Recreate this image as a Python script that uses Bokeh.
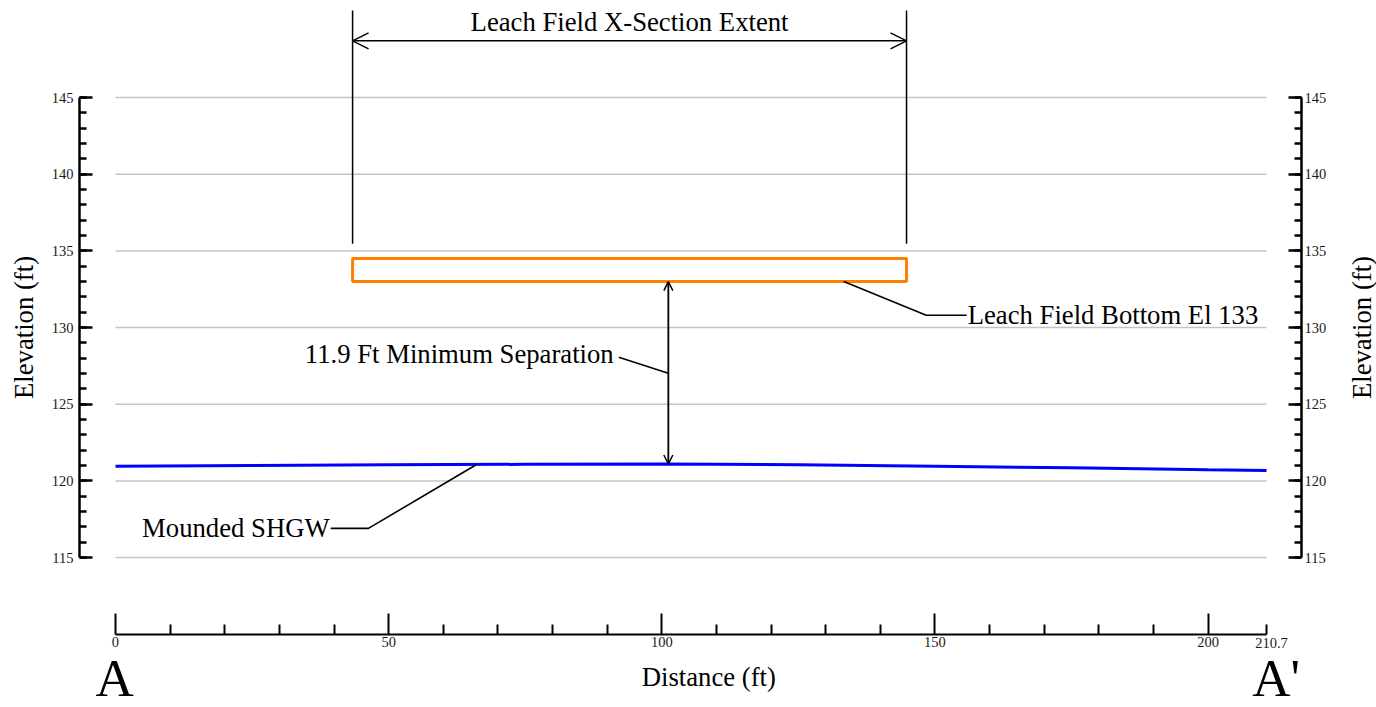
import math
from bokeh.plotting import figure
from bokeh.models import Range1d, LinearAxis, FixedTicker, Arrow, OpenHead, Label
from bokeh.core.properties import value
from bokeh.embed import file_html
from bokeh.resources import INLINE

# ---------------- data ----------------
distance_ft = [0, 25, 50, 75, 100, 125, 150, 175, 200, 210.7]
shgw_elev_ft = [120.95, 121.0, 121.05, 121.08, 121.1, 121.05, 120.95, 120.85, 120.72, 120.68]

leach_x_ft = [43.4, 144.8]
leach_bottom_el = 133.0
leach_top_el = 134.5

sep_x_ft = 101.2
sep_top_el = 133.0
sep_bottom_el = 121.1

grid_elev = [115, 120, 125, 130, 135, 140, 145]
y_major_ticks = [115, 120, 125, 130, 135, 140, 145]
y_minor_ticks = list(range(115, 146))
x_major_ticks = [0, 50, 100, 150, 200]
x_minor_ticks = [10, 20, 30, 40, 60, 70, 80, 90, 110, 120, 130, 140, 160, 170, 180, 190, 210.7]
x_end_ft = 210.7
x_end_label = "210.7"

FONT = "Liberation Serif"
BIG = "26.7px"
TICK = "14.5px"

# scale: 5.4628 px/ft horizontally (0 ft at px 115); 15.333 px/ft vertically (145 at px 97)
p = figure(width=1376, height=707,
           x_range=Range1d(-21.05, 230.83), y_range=Range1d(105.22, 151.33),
           output_backend="svg", toolbar_location=None,
           x_axis_location=None, y_axis_location=None,
           min_border=0, min_border_left=0, min_border_right=0,
           min_border_top=0, min_border_bottom=0)
p.xgrid.visible = False
p.ygrid.visible = False
p.outline_line_color = None
p.background_fill_color = "white"
p.border_fill_color = "white"

LEFT_AXIS_X = -6.59
RIGHT_AXIS_X = 217.1
BOTTOM_AXIS_Y = 109.98

# ---------------- axes ----------------
def style_y(ax, standoff):
    ax.axis_line_width = 2.5
    ax.axis_line_color = "black"
    ax.major_tick_in = 13
    ax.major_tick_out = 0
    ax.minor_tick_in = 7
    ax.minor_tick_out = 0
    ax.major_tick_line_width = 2.5
    ax.minor_tick_line_width = 2.5
    ax.major_label_standoff = standoff
    ax.major_label_text_font = FONT
    ax.major_label_text_font_size = TICK
    ax.major_label_text_color = "#1a1a1a"

yl = LinearAxis(ticker=FixedTicker(ticks=y_major_ticks, minor_ticks=y_minor_ticks),
                bounds=(115, 145), axis_label="Elevation (ft)", fixed_location=LEFT_AXIS_X)
style_y(yl, 6)
yl.axis_label_text_font = FONT
yl.axis_label_text_font_size = BIG
yl.axis_label_text_font_style = "normal"
yl.axis_label_text_color = "black"
yl.axis_label_standoff = 10
p.add_layout(yl, "left")

yr = LinearAxis(ticker=FixedTicker(ticks=y_major_ticks, minor_ticks=y_minor_ticks),
                bounds=(115, 145), fixed_location=RIGHT_AXIS_X)
style_y(yr, 3)
p.add_layout(yr, "right")

xb = LinearAxis(ticker=FixedTicker(ticks=x_major_ticks, minor_ticks=x_minor_ticks),
                bounds=(0, x_end_ft), fixed_location=BOTTOM_AXIS_Y)
xb.axis_line_width = 2
xb.major_tick_in = 21
xb.major_tick_out = 0
xb.minor_tick_in = 10
xb.minor_tick_out = 0
xb.major_tick_line_width = 2
xb.minor_tick_line_width = 2
xb.major_label_standoff = 2
xb.major_label_text_font = FONT
xb.major_label_text_font_size = TICK
xb.major_label_text_color = "#1a1a1a"
p.add_layout(xb, "below")

# ---------------- gridlines ----------------
p.segment(x0=[0] * len(grid_elev), x1=[x_end_ft] * len(grid_elev), y0=grid_elev, y1=grid_elev,
          line_color="#C4C4C4", line_width=1.5)

# ---------------- mounded SHGW ----------------
p.line(distance_ft, shgw_elev_ft, line_color="#0000FF", line_width=3)

# ---------------- leach field ----------------
p.quad(left=[leach_x_ft[0]], right=[leach_x_ft[1]], bottom=[leach_bottom_el], top=[leach_top_el],
       fill_color=None, line_color="#FF8000", line_width=3)

# extent lines + dimension arrow
p.segment(x0=leach_x_ft, x1=leach_x_ft, y0=[135.46, 135.46], y1=[150.68, 150.68],
          line_color="black", line_width=1.5)
p.add_layout(Arrow(x_start=leach_x_ft[0], y_start=148.7, x_end=leach_x_ft[1], y_end=148.7,
                   start=OpenHead(size=16, line_width=1.5, line_color="black"),
                   end=OpenHead(size=16, line_width=1.5, line_color="black"),
                   line_width=1.5, line_color="black"))
p.text(x=[(leach_x_ft[0] + leach_x_ft[1]) / 2], y=[149.9], text=["Leach Field X-Section Extent"],
       text_font=value(FONT), text_font_size=value(BIG), text_align="center",
       text_baseline="middle", text_color="black")

# separation arrow
p.add_layout(Arrow(x_start=sep_x_ft, y_start=sep_bottom_el, x_end=sep_x_ft, y_end=sep_top_el,
                   start=OpenHead(size=9, line_width=1.5, line_color="black"),
                   end=OpenHead(size=9, line_width=1.5, line_color="black"),
                   line_width=1.8, line_color="black"))

# leader lines
p.multi_line(xs=[[92.13, sep_x_ft], [133.3, 148.4, 155.8], [39.4, 46.3, 66.1]],
             ys=[[128.06, 127.02], [leach_bottom_el, 130.8, 130.8], [116.9, 116.9, 121.07]],
             line_color="black", line_width=1.6)

p.text(x=[91.2, 156.0, 39.2], y=[128.3, 130.85, 116.9],
       text=["11.9 Ft Minimum Separation", "Leach Field Bottom El 133", "Mounded SHGW"],
       text_align=["right", "left", "right"],
       text_font=value(FONT), text_font_size=value(BIG), text_baseline="middle", text_color="black")

# ---------------- outer labels ----------------
p.add_layout(Label(x=x_end_ft, y=109.76, text=x_end_label, x_offset=5, text_font=FONT,
                   text_font_size=TICK, text_align="center", text_baseline="top",
                   text_color="#1a1a1a"))
p.add_layout(Label(x=108.6, y=107.23, text="Distance (ft)", text_font=FONT, text_font_size=BIG,
                   text_align="center", text_baseline="middle", text_color="black"))
p.add_layout(Label(x=-3.66, y=107.15, text="A", text_font=FONT, text_font_size="53px",
                   text_align="left", text_baseline="middle", text_color="black"))
p.add_layout(Label(x=208.1, y=107.15, text="A'", text_font=FONT, text_font_size="53px",
                   text_align="left", text_baseline="middle", text_color="black"))
p.add_layout(Label(x=228.1, y=130.0, text="Elevation (ft)", angle=math.pi / 2, angle_units="rad",
                   text_font=FONT, text_font_size=BIG, text_align="center",
                   text_baseline="middle", text_color="black"))

open("out.html", "w").write(file_html(p, INLINE))
